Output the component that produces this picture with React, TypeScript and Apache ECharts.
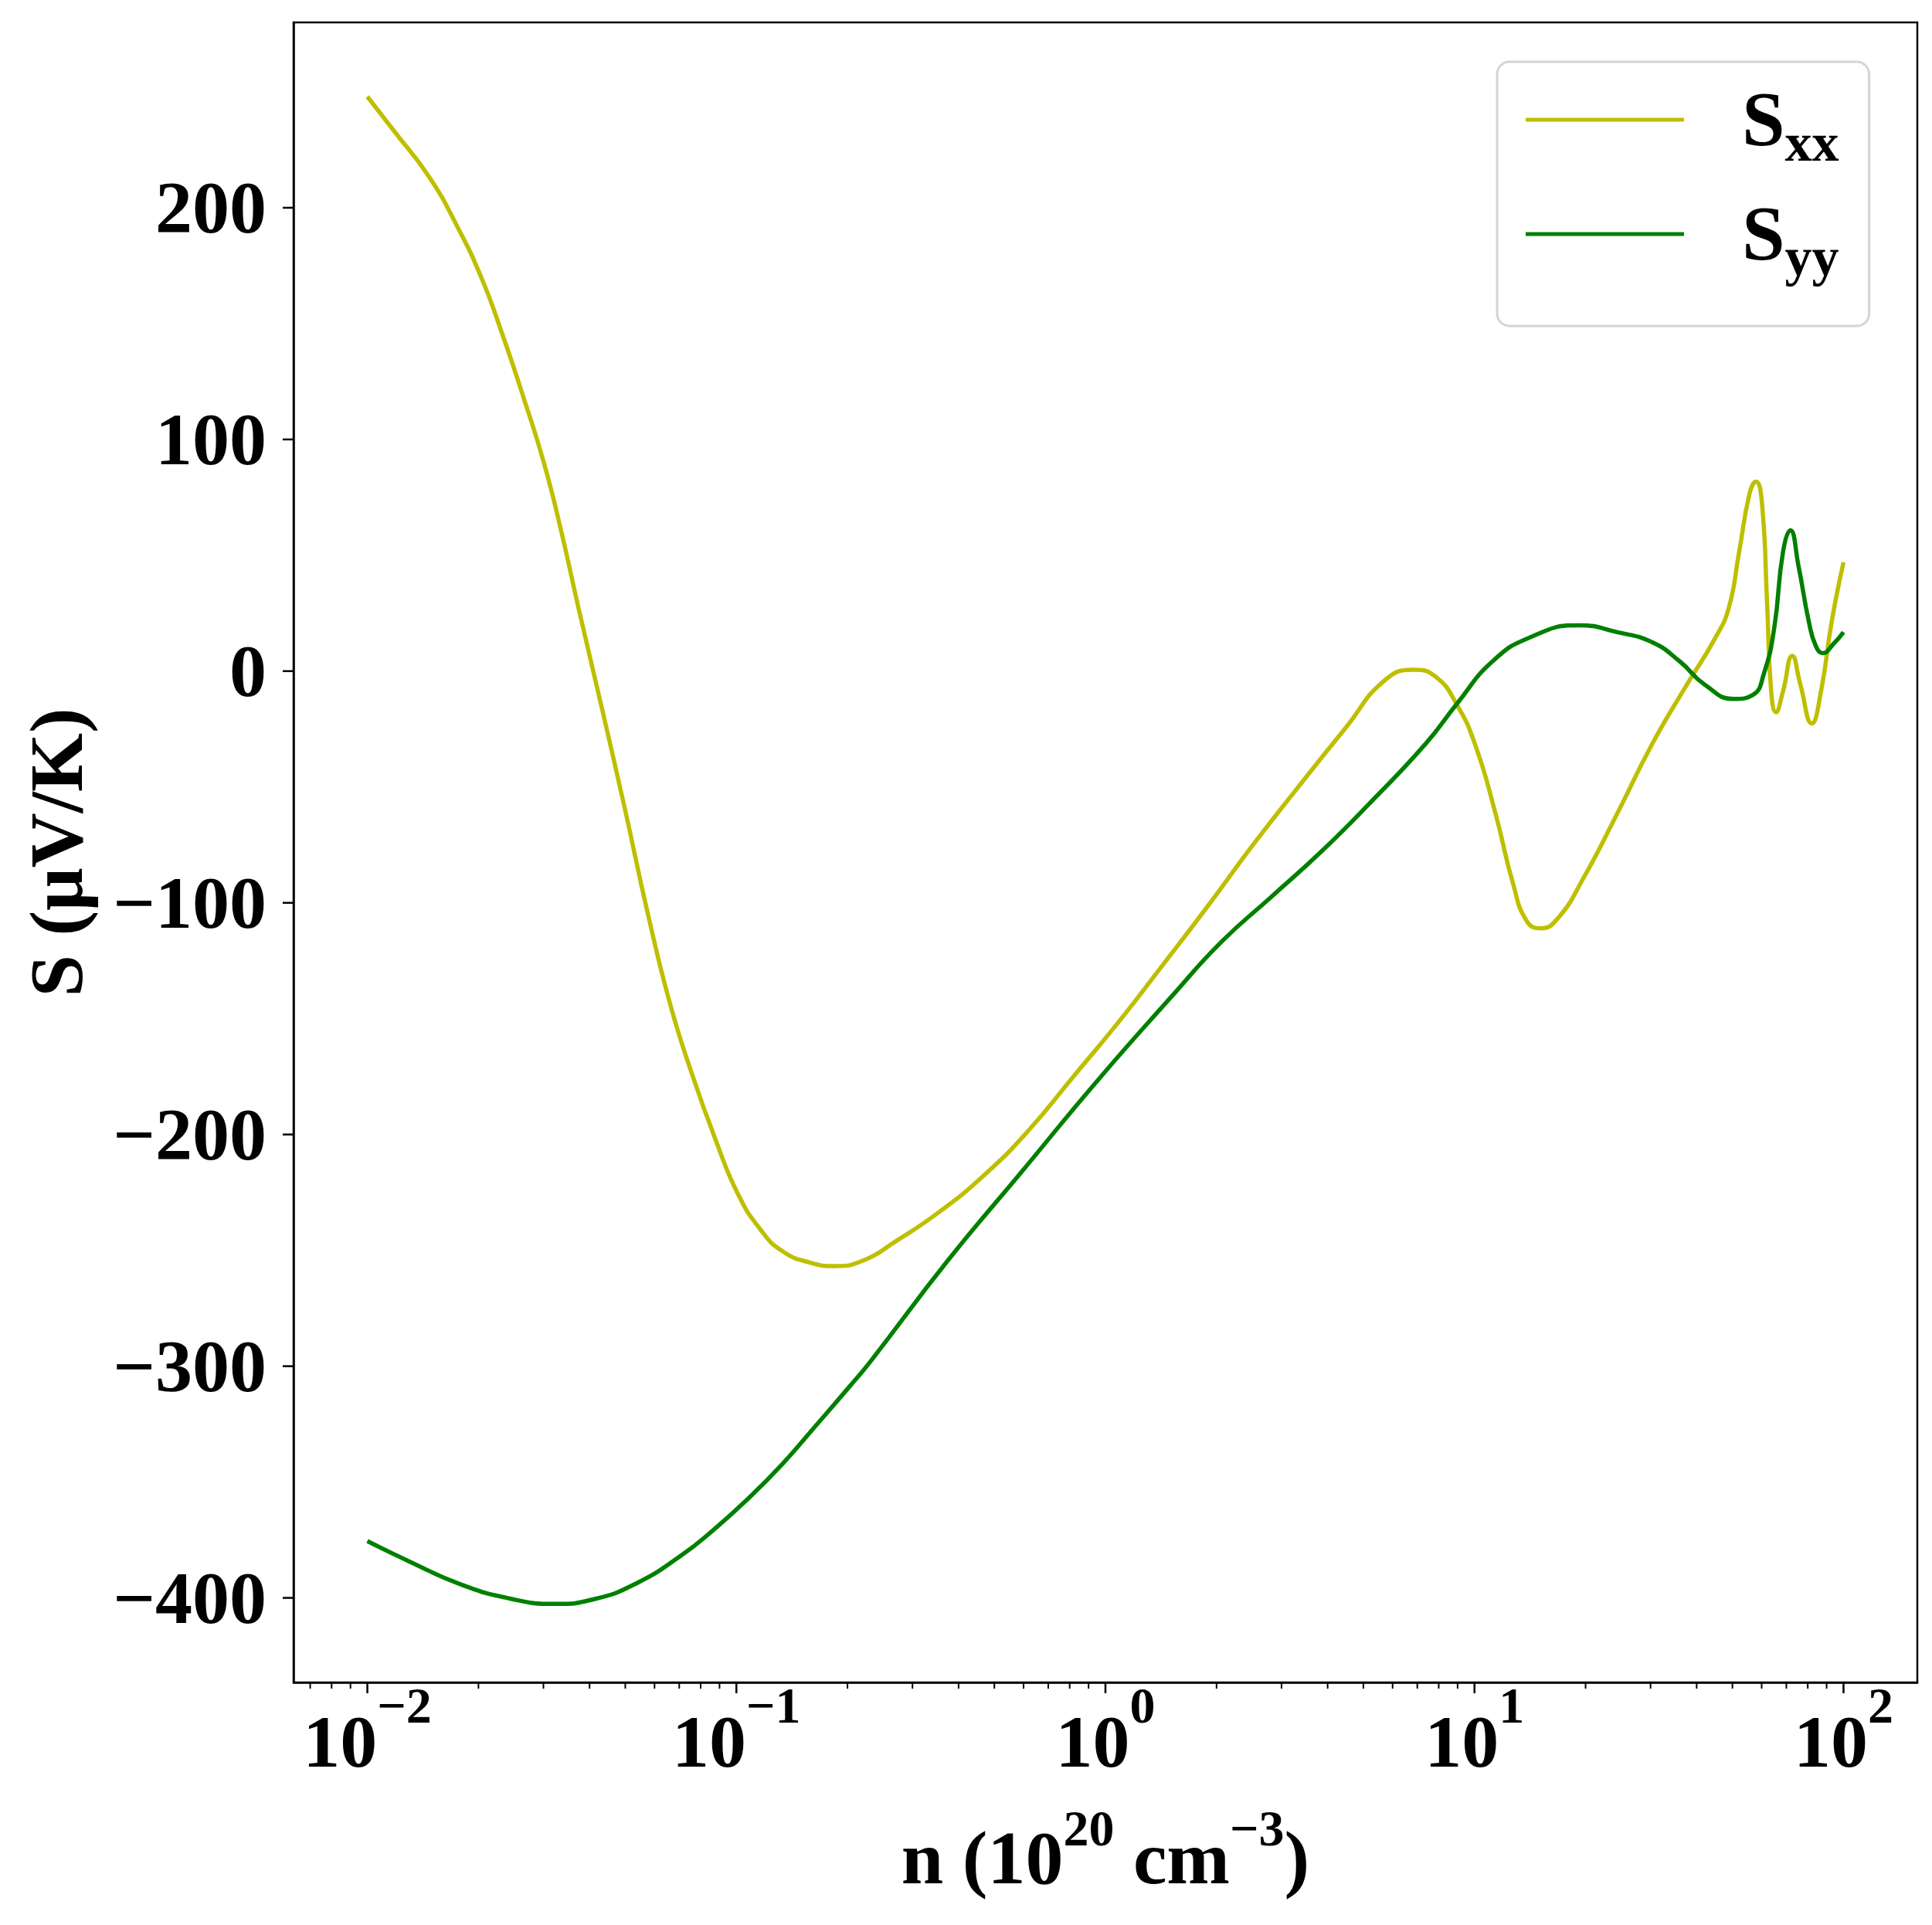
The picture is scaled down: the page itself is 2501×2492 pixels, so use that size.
import React, { useEffect, useRef } from "react";
import * as echarts from "echarts";

const FONT = '"Liberation Serif", "Times New Roman", Times, serif';

// S_xx (yellow): carrier concentration n (1e20 cm^-3) and Seebeck coefficient (µV/K)
const nXX = [
  0.01, 0.01183, 0.01469, 0.01746, 0.02037, 0.02317, 0.02642, 0.03006, 0.03357, 0.03733,
  0.04355, 0.05012, 0.05768, 0.06622, 0.07621, 0.0877, 0.1007, 0.1159, 0.1334, 0.1585,
  0.1862, 0.2213, 0.2679, 0.354, 0.4688, 0.6194, 0.8185, 1.081, 1.432, 1.892,
  2.5, 3.548, 4.477, 5.689, 6.839, 7.888, 8.974, 10.02, 11.4, 12.71,
  13.87, 15.14, 16.86, 19.63, 24.38, 30.34, 37.67, 44.77, 48.87, 52.12,
  55.72, 57.94, 60.12, 62.09, 63.68, 65.61, 68.55, 72.61, 76.38, 82.04,
  86.9, 92.9, 100,
];
const sXX = [
  248, 233, 213.4, 192.4, 169.8, 145.8, 118.7, 90.1, 60, 27.3,
  -18.4, -61, -105.4, -144, -175, -202, -225.3, -240.8, -250.4, -255.3,
  -256.8, -254.3, -246.5, -233.5, -217.6, -198.2, -175, -151.8, -126.7, -101.5,
  -75.4, -44.5, -24.5, -4.2, 0.6, -2.7, -14.7, -31.3, -61.4, -91.5,
  -108, -111, -106.5, -90, -61.4, -31.3, -5.7, 13.9, 27.3, 51.4,
  77, 81.8, 72.5, 28.9, -8.7, -17.7, -8.7, 6.6, -5.7, -22.6,
  -8.7, 21.4, 47,
];

// S_yy (green)
const nYY = [
  0.01, 0.013, 0.01786, 0.02449, 0.03221, 0.0415, 0.05346, 0.07031, 0.0869, 0.1074,
  0.1324, 0.1637, 0.2018, 0.2307, 0.3741, 0.5957, 0.9484, 1.51, 2.061, 2.812,
  3.828, 5.224, 7.379, 8.974, 11.17, 14.16, 19.19, 24.38, 30.34, 36.06,
  41.98, 50.47, 56.89, 60.81, 64.86, 68.55, 71.78, 75.51, 80.54, 84.14,
  87.9, 93.76, 100,
];
const sYY = [
  -375.5, -384.3, -394.1, -400.4, -402.6, -400.4, -393.8, -382.1, -370.5, -357.3,
  -342.7, -325.9, -309.1, -298, -254.4, -215.7, -177, -140.5, -116.9, -97.5,
  -78.2, -56.7, -31.3, -14, 4.1, 14.6, 19.8, 16.8, 12.4, 4.1,
  -5.7, -12, -10.2, -1.2, 18.3, 51.4, 60.8, 45.4, 21.4, 10.8,
  7.8, 11.6, 16.8,
];

const xMajorTicks = [0.01, 0.1, 1, 10, 100];
const xMinorTicks = [
  0.007, 0.008, 0.009,
  0.02, 0.03, 0.04, 0.05, 0.06, 0.07, 0.08, 0.09,
  0.2, 0.3, 0.4, 0.5, 0.6, 0.7, 0.8, 0.9,
  2, 3, 4, 5, 6, 7, 8, 9,
  20, 30, 40, 50, 60, 70, 80, 90,
];
const yTickValues = [-400, -300, -200, -100, 0, 100, 200];

const X_MIN = 0.0063096;
const X_MAX = 158.49;
const Y_MIN = -436.5;
const Y_MAX = 280;

const SERIES_NAMES = ["Sxx", "Syy"];
const SUBSCRIPTS = ["xx", "yy"];
const COLORS = ["#bfbf00", "#008000"];

function zip(xs: number[], ys: number[]) {
  return xs.map((x, i) => [x, ys[i]]);
}

export default function App() {
  const ref = useRef<HTMLDivElement>(null);

  useEffect(() => {
    if (!ref.current) return;
    const chart = echarts.init(ref.current, undefined, { renderer: "svg" });

    const tickData: number[][] = [
      ...xMajorTicks.map((v) => [v, 0, 0]),
      ...xMinorTicks.map((v) => [v, 0, 1]),
      ...yTickValues.map((v) => [1, v, 2]),
    ];

    const supLabel = (v: number) => {
      const e = Math.round(Math.log10(v));
      const s = e < 0 ? "\u2212" + Math.abs(e) : String(e);
      return "{b|10}{s|" + s + "}";
    };

    chart.setOption({
      animation: false,
      backgroundColor: "#ffffff",
      grid: {
        left: 380,
        right: 19,
        top: 29,
        bottom: 314,
        show: true,
        borderColor: "#000",
        borderWidth: 2.5,
        backgroundColor: "transparent",
      },
      legend: {
        data: SERIES_NAMES,
        orient: "vertical",
        left: 1938,
        top: 80,
        padding: [11, 39, 55, 37],
        icon: "rect",
        itemWidth: 205,
        itemHeight: 5,
        itemGap: 20,
        selectedMode: false,
        borderColor: "#d4d4d4",
        borderWidth: 3,
        borderRadius: 16,
        backgroundColor: "#ffffff",
        formatter: (name: string) => {
          const i = SERIES_NAMES.indexOf(name);
          return "{m|S}{s|" + SUBSCRIPTS[i] + "}";
        },
        textStyle: {
          color: "#000",
          fontFamily: FONT,
          fontWeight: "bold",
          rich: {
            m: {
              fontFamily: FONT,
              fontWeight: "bold",
              fontSize: 100,
              lineHeight: 128,
              color: "#000",
              verticalAlign: "top",
              padding: [12, 0, 0, 70],
            },
            s: {
              fontFamily: FONT,
              fontWeight: "bold",
              fontSize: 70,
              lineHeight: 70,
              color: "#000",
              verticalAlign: "bottom",
            },
          },
        },
      },
      xAxis: {
        type: "log",
        logBase: 10,
        min: X_MIN,
        max: X_MAX,
        splitLine: { show: false },
        axisTick: { show: false },
        axisLine: { show: true, onZero: false, lineStyle: { color: "#000", width: 2.5 } },
        axisLabel: {
          showMinLabel: false,
          showMaxLabel: false,
          margin: -4,
          formatter: supLabel,
          rich: {
            b: {
              fontFamily: FONT,
              fontWeight: "bold",
              fontSize: 96,
              lineHeight: 100,
              color: "#000",
              verticalAlign: "top",
              padding: [32, 0, 0, 0],
            },
            s: {
              fontFamily: FONT,
              fontWeight: "bold",
              fontSize: 66,
              lineHeight: 66,
              color: "#000",
              verticalAlign: "top",
            },
          },
        },
        name: "{a|n (10}{s|20}{a| cm}{s|\u22123}{a|)}",
        nameLocation: "middle",
        nameGap: 155,
        nameTextStyle: {
          rich: {
            a: {
              fontFamily: FONT,
              fontWeight: "bold",
              fontSize: 98,
              lineHeight: 100,
              color: "#000",
              verticalAlign: "top",
              padding: [23, 0, 0, 0],
            },
            s: {
              fontFamily: FONT,
              fontWeight: "bold",
              fontSize: 66,
              lineHeight: 66,
              color: "#000",
              verticalAlign: "top",
            },
          },
        },
      },
      yAxis: {
        type: "value",
        min: Y_MIN,
        max: Y_MAX,
        splitNumber: 7,
        splitLine: { show: false },
        axisTick: { show: false },
        axisLine: { show: true, onZero: false, lineStyle: { color: "#000", width: 2.5 } },
        axisLabel: {
          showMinLabel: false,
          showMaxLabel: false,
          margin: 35,
          fontFamily: FONT,
          fontWeight: "bold",
          fontSize: 96,
          color: "#000",
          formatter: (v: number) => (v < 0 ? "\u2212" + Math.abs(v) : String(v)),
        },
        name: "S (\u03bcV/K)",
        nameLocation: "middle",
        nameGap: 258,
        nameTextStyle: {
          fontFamily: FONT,
          fontWeight: "bold",
          fontSize: 98,
          color: "#000",
        },
      },
      series: [
        {
          name: SERIES_NAMES[0],
          type: "line",
          data: zip(nXX, sXX),
          symbol: "none",
          smooth: 0.5,
          lineStyle: { color: COLORS[0], width: 5.5 },
          itemStyle: { color: COLORS[0] },
          z: 3,
        },
        {
          name: SERIES_NAMES[1],
          type: "line",
          data: zip(nYY, sYY),
          symbol: "none",
          smooth: 0.5,
          lineStyle: { color: COLORS[1], width: 5.5 },
          itemStyle: { color: COLORS[1] },
          z: 4,
        },
        {
          name: "ticks",
          type: "custom",
          coordinateSystem: "cartesian2d",
          silent: true,
          clip: false,
          z: 10,
          encode: { x: 0, y: 1 },
          data: tickData,
          renderItem: (params: any, api: any) => {
            const cs = params.coordSys;
            const kind = api.value(2);
            if (kind === 2) {
              const p = api.coord([1, api.value(1)]);
              return {
                type: "line",
                shape: { x1: cs.x - 14, y1: p[1], x2: cs.x, y2: p[1] },
                style: { stroke: "#000", lineWidth: 2.5 },
              };
            }
            const p = api.coord([api.value(0), 1]);
            const bottom = cs.y + cs.height;
            const len = kind === 0 ? 14 : 8;
            return {
              type: "line",
              shape: { x1: p[0], y1: bottom, x2: p[0], y2: bottom + len },
              style: { stroke: "#000", lineWidth: kind === 0 ? 2.5 : 2 },
            };
          },
        },
      ],
    });

    return () => {
      chart.dispose();
    };
  }, []);

  return (
    <div
      ref={ref}
      style={{ position: "absolute", left: 0, top: 0, width: 2501, height: 2492, background: "#fff" }}
    />
  );
}
